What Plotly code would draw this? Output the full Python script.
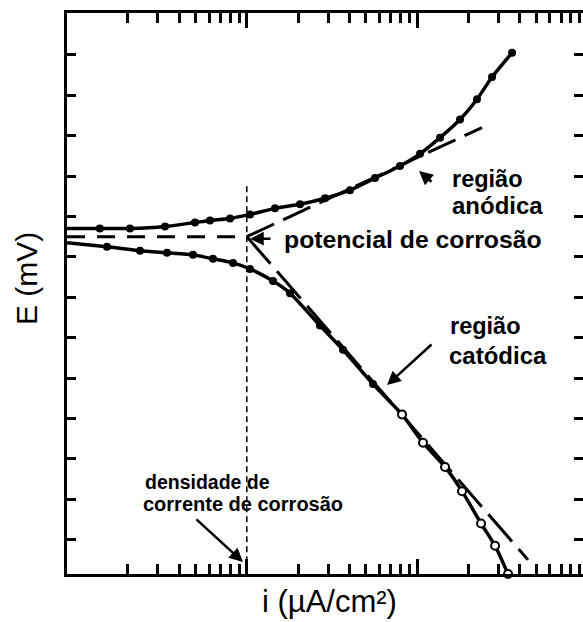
import numpy as np
import plotly.graph_objects as go

# ---- data (i in µA/cm², E in mV) ----
anodic_i = [0.088, 0.137, 0.206, 0.331, 0.496, 0.608, 0.797, 1.044, 1.464, 2.053,
            2.879, 4.036, 5.660, 7.935, 10.40, 13.63, 17.86, 22.47, 27.54, 36.09]
anodic_E = [-546, -546, -546, -545, -543, -542, -541, -539, -536, -534,
            -531, -527, -521, -515, -509, -501, -492, -482, -471, -459]

cathodic_i = [0.088, 0.151, 0.236, 0.340, 0.483, 0.633, 0.830, 1.044, 1.425, 1.794,
              2.690, 3.672, 5.508, 8.152, 10.83, 14.58, 18.35, 23.73, 28.68, 34.19]
cathodic_E = [-553, -555, -557, -558, -559, -561, -563, -566, -572, -578,
              -594, -606, -623, -638, -652, -664, -676, -692, -703, -717]
open_from = 13  # cathodic points drawn as open circles from this index

i_corr = 1.0
E_corr = -550
i_left = 0.088
tafel_anodic_end = (24.05, -496)
tafel_cathodic_end = (44.79, -710)
icorr_line_top = -525

minor_ticks = [m * 10.0 ** d for d in (-1, 0, 1) for m in range(2, 10)]
major_ticks = [1, 10, 100]
y_ticks = list(range(-700, -459, 20))
y_range = [-717.0, -439.3]

FONT = "Liberation Sans"

fig = go.Figure()

# Tafel extrapolations and E_corr line
fig.add_trace(go.Scatter(x=[i_left, i_corr], y=[E_corr, E_corr], mode="lines",
                         line=dict(color="black", width=3, dash="18px,12px")))
fig.add_trace(go.Scatter(x=[i_corr, tafel_anodic_end[0]], y=[E_corr, tafel_anodic_end[1]],
                         mode="lines", line=dict(color="black", width=3, dash="30px,10px")))
fig.add_trace(go.Scatter(x=[i_corr, tafel_cathodic_end[0]], y=[E_corr, tafel_cathodic_end[1]],
                         mode="lines", line=dict(color="black", width=3, dash="36px,10px")))
# i_corr vertical
fig.add_trace(go.Scatter(x=[i_corr, i_corr], y=[icorr_line_top, -717], mode="lines",
                         line=dict(color="black", width=1.5, dash="6px,4px")))

# curves
fig.add_trace(go.Scatter(x=anodic_i, y=anodic_E, mode="lines",
                         line=dict(color="black", width=3.5, shape="spline", smoothing=0.6)))
fig.add_trace(go.Scatter(x=cathodic_i, y=cathodic_E, mode="lines",
                         line=dict(color="black", width=3.5, shape="spline", smoothing=0.6)))
fig.add_trace(go.Scatter(x=anodic_i[1:], y=anodic_E[1:], mode="markers",
                         marker=dict(symbol="circle", size=8, color="black"), cliponaxis=False))
fig.add_trace(go.Scatter(x=cathodic_i[1:open_from], y=cathodic_E[1:open_from], mode="markers",
                         marker=dict(symbol="circle", size=8, color="black"), cliponaxis=False))
fig.add_trace(go.Scatter(x=cathodic_i[open_from:], y=cathodic_E[open_from:], mode="markers",
                         marker=dict(symbol="circle", size=8, color="white",
                                     line=dict(color="black", width=2)), cliponaxis=False))
# invisible trace to carry the right-hand tick axis
fig.add_trace(go.Scatter(x=[i_corr], y=[E_corr], yaxis="y2", mode="markers",
                         marker=dict(size=1, opacity=0), hoverinfo="skip"))

ann = []
def label(text, i, E, size=23.5):
    ann.append(dict(text="<b>" + text + "</b>", x=np.log10(i), y=E, xref="x", yref="y",
                    xanchor="left", yanchor="middle", showarrow=False,
                    font=dict(family=FONT, size=size, color="black")))

def arrow(tail, tip):
    ann.append(dict(text="", x=np.log10(tip[0]), y=tip[1], ax=np.log10(tail[0]), ay=tail[1],
                    xref="x", yref="y", axref="x", ayref="y", showarrow=True,
                    arrowhead=2, arrowsize=1.1, arrowwidth=2.5, arrowcolor="black", standoff=0))

label("região", 15.6, -521.5, 23.5)
label("anódica", 15.6, -534.4, 24)
label("potencial de corrosão", 1.60, -551.5, 24.8)
label("região", 15.2, -594.3, 23.5)
label("catódica", 15.0, -608.6, 24)
label("densidade de", 0.2457, -671.5, 19.5)
label("corrente de corrosão", 0.2400, -682.4, 20)

arrow((12.4, -523.5), (10.26, -517.5))
arrow((1.406, -551), (1.044, -551))
arrow((12.4, -602.7), (6.66, -623.5))
arrow((0.496, -689.3), (0.950, -711.1))

ann.append(dict(text="E (mV)", x=-0.0795, y=0.5276, xref="paper", yref="paper",
                xanchor="center", yanchor="middle", textangle=-90, showarrow=False,
                font=dict(family=FONT, size=30, color="black")))
ann.append(dict(text="i (µA/cm²)", x=0.5078, y=-0.0838, xref="paper", yref="paper",
                xanchor="center", yanchor="bottom", showarrow=False,
                font=dict(family=FONT, size=31, color="black")))

tick_common = dict(ticks="inside", ticklen=9, tickwidth=2.5, tickcolor="black",
                   tickmode="array", tickvals=y_ticks, showticklabels=False,
                   showgrid=False, zeroline=False, range=y_range)

fig.update_layout(
    width=583, height=622,
    margin=dict(l=67, r=0, t=13, b=48),
    paper_bgcolor="white", plot_bgcolor="white",
    showlegend=False,
    annotations=ann,
    xaxis=dict(type="log", range=[-1.0558, 1.974], showgrid=False, zeroline=False,
               showline=True, linewidth=3, linecolor="black", mirror="ticks",
               ticks="inside", ticklen=15, tickwidth=2.5, tickcolor="black",
               tickmode="array", tickvals=major_ticks, showticklabels=False,
               minor=dict(ticks="inside", ticklen=10, tickwidth=2.5, tickcolor="black",
                          tickmode="array", tickvals=minor_ticks, showgrid=False)),
    yaxis=dict(showline=True, linewidth=3, linecolor="black", mirror=False, **tick_common),
    yaxis2=dict(overlaying="y", side="right", showline=False, **tick_common),
)

fig.write_html("out.html")
